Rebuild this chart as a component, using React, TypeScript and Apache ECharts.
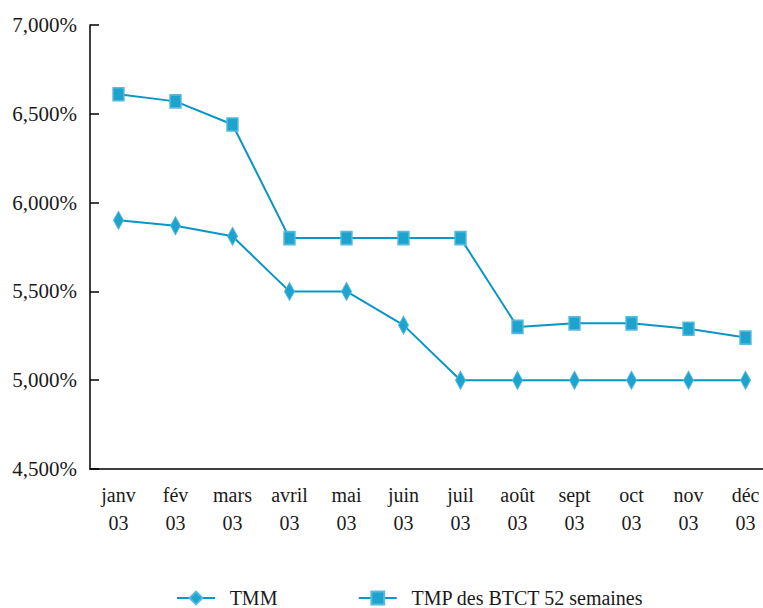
import React, { useEffect, useRef } from "react";
import * as echarts from "echarts";

const months = ["janv", "fév", "mars", "avril", "mai", "juin", "juil", "août", "sept", "oct", "nov", "déc"];
const yearLabel = "03";
const tmm = [5.9, 5.87, 5.81, 5.5, 5.5, 5.31, 5.0, 5.0, 5.0, 5.0, 5.0, 5.0];
const tmpBtct = [6.61, 6.57, 6.44, 5.8, 5.8, 5.8, 5.8, 5.3, 5.32, 5.32, 5.29, 5.24];
const seriesNames = ["TMM", "TMP des BTCT 52 semaines"];

const FONT = "Liberation Serif";
const LINE = "#0a96c4";

export default function App() {
  const ref = useRef<HTMLDivElement>(null);
  useEffect(() => {
    const chart = echarts.init(ref.current!, null, { renderer: "svg" });
    chart.setOption({
      animation: false,
      backgroundColor: "#ffffff",
      textStyle: { fontFamily: FONT },
      grid: { left: 90, top: 25, height: 444, width: 684, containLabel: false },
      legend: {
        left: 171,
        top: 583,
        itemWidth: 38,
        itemHeight: 16,
        itemGap: 80,
        data: seriesNames,
        formatter: (n: string) => "  " + n,
        textStyle: { fontFamily: FONT, fontSize: 20, color: "#1a1a1a" },
      },
      xAxis: {
        type: "category",
        data: months.map((m) => m + "\n" + yearLabel),
        boundaryGap: true,
        axisLine: { lineStyle: { color: "#000", width: 1.5 } },
        axisTick: { inside: true, length: 8, lineStyle: { color: "#000", width: 1.5 } },
        axisLabel: { color: "#1a1a1a", fontFamily: FONT, fontSize: 20, lineHeight: 28, margin: 12, interval: 0 },
      },
      yAxis: {
        type: "value",
        min: 4.5,
        max: 7,
        interval: 0.5,
        splitLine: { show: false },
        axisLine: { show: true, lineStyle: { color: "#000", width: 1.5 } },
        axisTick: { show: true, inside: true, length: 9, lineStyle: { color: "#000", width: 1.5 } },
        axisLabel: {
          color: "#1a1a1a",
          fontFamily: FONT,
          fontSize: 21,
          margin: 13,
          formatter: (v: number) => v.toFixed(3).replace(".", ",") + "%",
        },
      },
      series: [
        {
          name: seriesNames[0],
          type: "line",
          data: tmm,
          symbol: "diamond",
          symbolSize: [10, 18],
          lineStyle: { color: LINE, width: 2 },
          itemStyle: { color: "#1ea3cf", borderColor: "#4fb8dc", borderWidth: 1 },
        },
        {
          name: seriesNames[1],
          type: "line",
          data: tmpBtct,
          symbol: "rect",
          symbolSize: [11, 13],
          lineStyle: { color: LINE, width: 2 },
          itemStyle: { color: "#1ea3cf", borderColor: "#55bbdd", borderWidth: 1.5 },
        },
      ],
    });
    return () => chart.dispose();
  }, []);
  return (
    <div style={{ position: "fixed", left: 0, top: 0, width: 763, height: 608, overflow: "hidden", background: "#fff" }}>
      <div ref={ref} style={{ width: 800, height: 608 }} />
    </div>
  );
}
